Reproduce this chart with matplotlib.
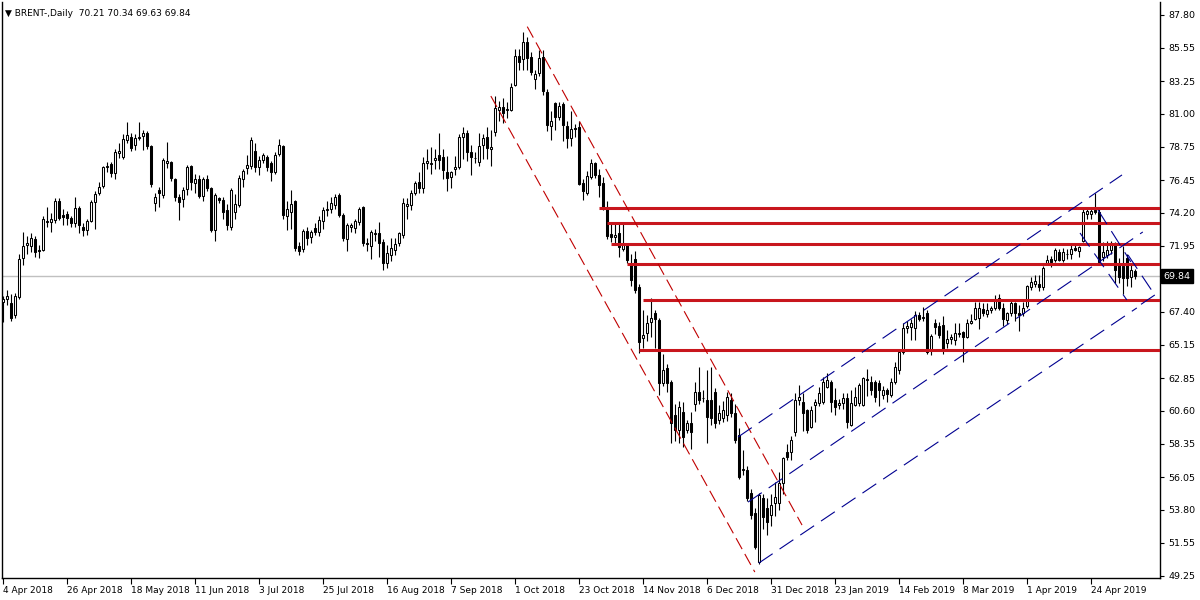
import numpy as np
import matplotlib
matplotlib.use("Agg")
from matplotlib import pyplot as plt

symbol = "BRENT-,Daily"
last_ohlc = [70.21, 70.34, 69.63, 69.84]

opens = [
    68.10, 68.30, 68.00, 67.20, 68.40, 71.10, 72.00, 71.90, 72.40, 71.65,
    71.65, 73.55, 73.60, 73.70, 75.00, 74.05, 74.10, 73.85, 73.50, 74.55,
    73.20, 73.00, 73.65, 74.95, 75.60, 76.05, 77.35, 77.55, 76.95, 78.35,
    78.05, 79.20, 79.40, 78.90, 79.35, 79.50, 79.70, 78.80, 74.90, 75.80,
    75.40, 77.65, 77.70, 76.50, 75.30, 75.15, 75.85, 77.40, 76.25, 76.50,
    75.35, 76.50, 75.90, 73.00, 75.20, 75.10, 74.40, 73.20, 74.25, 74.75,
    76.50, 77.30, 77.40, 78.45, 77.35, 77.85, 78.05, 77.60, 77.00, 78.25,
    78.80, 74.00, 74.25, 75.00, 71.95, 71.70, 72.95, 72.55, 73.15, 72.90,
    73.65, 74.40, 74.45, 74.75, 75.45, 74.05, 72.40, 73.25, 73.15, 73.60,
    74.60, 72.15, 71.95, 72.75, 72.80, 72.20, 70.75, 71.30, 71.65, 72.10,
    72.70, 74.70, 74.75, 75.60, 76.30, 75.90, 77.65, 77.55, 77.85, 78.20,
    78.05, 77.00, 76.65, 77.25, 77.35, 79.40, 79.70, 78.40, 77.95, 77.70,
    78.90, 79.40, 78.60, 79.75, 81.30, 81.50, 81.25, 81.30, 83.00, 84.95,
    84.80, 85.95, 84.90, 83.40, 83.80, 84.90, 82.50, 80.15, 81.75, 80.80,
    81.70, 80.15, 79.35, 80.05, 80.10, 76.25, 75.55, 76.65, 77.65, 76.80,
    76.25, 74.60, 72.75, 72.55, 72.80, 71.70, 72.00, 70.75, 71.05, 69.10,
    65.60, 65.95, 66.70, 67.30, 66.85, 62.50, 63.55, 62.60, 60.30, 59.30,
    60.50, 59.30, 59.75, 61.10, 61.90, 61.45, 61.35, 61.35, 61.90, 59.95,
    60.10, 60.30, 61.35, 60.45, 58.95, 56.50, 56.55, 54.95, 53.60, 50.20,
    54.60, 53.90, 53.45, 54.25, 54.25, 55.65, 57.75, 57.75, 59.15, 61.35,
    61.20, 60.65, 59.50, 61.00, 61.15, 61.20, 62.25, 62.60, 61.35, 61.00,
    61.15, 61.50, 59.65, 61.00, 61.15, 61.00, 62.70, 62.60, 62.60, 62.50,
    61.70, 62.00, 61.70, 62.60, 63.40, 64.65, 66.30, 66.35, 66.30, 67.20,
    66.95, 67.30, 64.80, 66.65, 66.45, 66.50, 65.25, 65.55, 65.45, 65.85,
    66.00, 65.70, 66.65, 66.90, 66.95, 67.60, 67.25, 67.50, 67.65, 68.35,
    67.65, 66.85, 67.30, 68.00, 67.30, 67.30, 67.80, 69.10, 69.30, 69.30,
    69.10, 70.75, 71.05, 70.95, 71.50, 70.95, 71.40, 71.40, 71.80, 71.55,
    72.30, 74.15, 74.15, 74.40, 74.25, 71.15, 71.30, 71.65, 72.00, 70.75,
    70.55, 71.10, 69.80, 70.21,
]
highs = [
    68.50, 68.90, 68.60, 68.70, 71.40, 72.90, 72.60, 72.80, 72.60, 72.00,
    74.00, 74.60, 74.20, 75.20, 75.20, 74.50, 74.30, 74.00, 75.30, 74.70,
    73.50, 73.80, 75.10, 75.70, 76.30, 77.45, 77.70, 77.70, 78.60, 79.00,
    79.60, 80.45, 79.70, 79.60, 80.45, 79.90, 79.80, 78.90, 75.60, 76.00,
    78.00, 79.10, 77.80, 76.60, 75.50, 76.00, 77.50, 77.50, 76.90, 76.80,
    76.70, 76.80, 76.00, 75.60, 75.30, 75.30, 74.80, 75.90, 75.50, 76.80,
    77.20, 78.20, 79.40, 79.00, 78.10, 78.30, 78.20, 77.80, 78.40, 79.30,
    78.90, 75.00, 75.80, 75.10, 72.20, 73.10, 73.20, 73.00, 73.50, 74.00,
    74.60, 75.00, 75.30, 75.50, 75.60, 74.20, 73.50, 73.50, 73.80, 74.60,
    74.70, 72.50, 73.00, 73.10, 73.60, 72.40, 72.00, 72.50, 72.50, 72.90,
    75.20, 75.20, 75.80, 76.40, 77.00, 78.05, 78.60, 78.70, 78.60, 79.70,
    78.60, 78.10, 77.10, 78.10, 79.60, 80.10, 79.90, 78.90, 78.40, 79.70,
    79.60, 80.10, 79.90, 82.20, 81.90, 82.10, 81.80, 83.10, 85.45, 85.45,
    86.60, 86.30, 85.25, 84.00, 85.40, 85.40, 82.70, 81.20, 81.80, 81.80,
    81.80, 80.50, 81.20, 80.30, 80.50, 76.50, 77.05, 77.90, 77.70, 77.20,
    76.70, 75.00, 73.50, 73.60, 73.50, 73.50, 72.10, 71.40, 71.60, 69.30,
    67.50, 67.20, 68.35, 67.50, 67.00, 64.50, 63.80, 62.70, 61.10, 61.30,
    61.20, 60.00, 60.50, 62.60, 63.60, 62.00, 63.40, 63.60, 62.20, 61.00,
    61.30, 61.90, 61.80, 61.10, 59.40, 57.90, 56.80, 55.20, 53.90, 54.95,
    54.85, 54.60, 54.85, 55.70, 56.40, 57.40, 58.30, 58.90, 61.80, 62.35,
    61.80, 60.75, 60.90, 61.40, 62.25, 62.95, 63.20, 62.70, 62.20, 61.40,
    61.85, 61.85, 62.05, 62.25, 62.50, 62.95, 63.50, 63.00, 62.75, 62.75,
    62.30, 62.15, 62.85, 63.95, 64.80, 66.65, 66.75, 66.90, 67.45, 67.40,
    67.70, 67.50, 65.90, 66.90, 66.70, 67.10, 66.15, 65.90, 66.65, 66.65,
    66.10, 66.90, 67.25, 68.10, 68.10, 68.00, 68.00, 67.80, 68.55, 68.65,
    68.00, 67.40, 68.20, 68.10, 67.90, 68.10, 69.25, 69.80, 69.90, 69.90,
    70.55, 71.30, 71.25, 71.80, 71.70, 71.80, 71.70, 72.00, 72.10, 71.90,
    74.50, 74.60, 74.60, 75.55, 74.50, 72.20, 72.30, 72.30, 72.20, 71.10,
    71.95, 71.40, 70.60, 70.34,
]
lows = [
    66.70, 67.90, 66.80, 67.00, 68.30, 70.60, 71.40, 71.50, 71.20, 71.10,
    71.60, 73.20, 72.90, 73.50, 73.70, 73.40, 73.40, 73.20, 73.20, 72.80,
    72.60, 72.70, 73.60, 73.10, 75.40, 75.90, 77.00, 76.70, 76.50, 78.00,
    77.90, 79.00, 78.45, 78.50, 79.20, 78.50, 78.60, 76.00, 74.30, 74.60,
    75.20, 77.30, 76.40, 75.00, 73.70, 74.60, 75.40, 75.80, 75.60, 75.20,
    75.00, 75.70, 72.90, 72.30, 74.90, 73.80, 73.00, 73.00, 73.80, 74.60,
    76.00, 76.90, 77.20, 77.00, 76.80, 77.60, 77.10, 76.40, 76.90, 78.10,
    73.80, 73.00, 73.10, 71.60, 71.30, 71.50, 72.00, 72.10, 72.70, 72.60,
    73.10, 74.00, 74.20, 74.50, 73.90, 72.30, 71.60, 72.90, 72.80, 73.40,
    71.90, 71.60, 71.00, 72.30, 71.20, 70.30, 70.40, 70.90, 71.30, 71.90,
    72.50, 73.80, 74.40, 75.40, 75.60, 75.60, 77.20, 76.90, 77.20, 77.20,
    76.50, 75.70, 75.90, 76.80, 77.20, 77.90, 77.80, 76.80, 77.60, 77.40,
    77.90, 77.90, 77.40, 79.50, 80.50, 80.40, 80.70, 81.20, 82.90, 84.00,
    84.00, 84.00, 83.70, 82.70, 83.60, 82.30, 79.80, 79.20, 79.90, 80.60,
    79.15, 78.65, 78.80, 79.40, 76.10, 75.10, 75.40, 76.50, 76.60, 75.30,
    74.40, 72.40, 72.20, 72.05, 71.20, 71.60, 70.75, 69.20, 68.70, 64.60,
    64.90, 65.40, 65.70, 64.90, 61.70, 62.30, 61.90, 58.40, 58.50, 58.40,
    58.10, 59.10, 58.00, 60.60, 61.10, 61.20, 58.40, 59.60, 59.40, 59.70,
    59.80, 59.90, 60.20, 58.40, 55.90, 56.20, 54.40, 53.20, 51.10, 50.10,
    52.50, 52.10, 52.70, 53.40, 53.80, 54.90, 57.20, 57.20, 58.90, 61.00,
    59.20, 59.05, 59.40, 59.80, 60.90, 61.05, 62.15, 60.50, 60.30, 60.70,
    60.70, 59.40, 59.55, 60.95, 60.90, 60.90, 61.60, 61.70, 61.20, 60.90,
    61.40, 61.20, 61.55, 62.45, 63.15, 64.50, 65.95, 65.50, 65.50, 66.80,
    66.80, 64.50, 64.45, 65.90, 65.60, 64.50, 64.95, 65.20, 65.10, 65.70,
    63.95, 65.60, 66.55, 66.85, 66.20, 67.15, 67.05, 67.30, 67.55, 67.55,
    66.40, 66.60, 67.10, 66.80, 66.10, 67.10, 67.65, 68.90, 69.10, 68.80,
    68.90, 70.60, 70.50, 70.85, 70.90, 70.85, 71.00, 71.00, 71.55, 71.20,
    72.20, 73.80, 73.80, 74.10, 70.65, 70.90, 71.10, 71.40, 69.40, 69.40,
    68.65, 69.20, 69.10, 69.63,
]
closes = [
    68.25, 68.50, 67.00, 68.50, 71.00, 71.90, 72.15, 72.50, 71.50, 71.55,
    73.80, 73.65, 73.75, 75.00, 73.85, 73.95, 73.85, 73.50, 74.55, 73.40,
    73.00, 73.65, 74.95, 75.50, 76.00, 77.35, 77.45, 76.95, 78.40, 78.45,
    79.30, 79.55, 78.65, 79.35, 79.45, 79.70, 78.80, 76.20, 75.30, 75.60,
    77.85, 77.75, 76.60, 75.30, 74.95, 75.80, 77.35, 76.30, 76.50, 75.35,
    76.50, 75.90, 73.00, 75.40, 75.10, 74.25, 73.35, 75.80, 74.80, 76.60,
    77.05, 77.50, 79.20, 77.35, 77.85, 78.20, 77.35, 77.00, 78.20, 78.90,
    74.05, 74.45, 74.80, 71.80, 71.60, 72.95, 72.50, 72.90, 72.90, 73.70,
    74.40, 74.50, 74.85, 75.30, 74.05, 72.50, 73.35, 73.35, 73.65, 74.45,
    72.15, 72.05, 72.90, 72.85, 72.10, 70.75, 71.45, 71.80, 72.05, 72.80,
    74.90, 74.80, 75.60, 76.25, 75.90, 77.65, 77.75, 77.65, 77.95, 77.85,
    77.15, 76.60, 77.00, 77.35, 79.40, 79.70, 78.40, 78.05, 78.00, 78.80,
    79.35, 78.65, 78.70, 81.40, 81.50, 81.05, 81.35, 82.85, 84.95, 84.55,
    85.95, 84.85, 83.90, 83.75, 84.85, 82.60, 80.25, 80.50, 80.80, 81.55,
    80.25, 79.35, 80.00, 79.95, 76.20, 75.70, 76.75, 77.65, 76.80, 76.10,
    74.60, 72.60, 72.55, 72.65, 71.85, 72.05, 70.95, 69.60, 68.90, 65.35,
    65.80, 66.65, 67.00, 66.90, 62.50, 63.40, 62.50, 59.75, 59.30, 60.85,
    58.80, 59.75, 59.15, 61.90, 61.35, 61.50, 60.15, 60.10, 59.75, 60.45,
    60.65, 61.55, 60.45, 58.60, 56.05, 56.60, 54.60, 53.45, 51.25, 54.80,
    53.30, 52.95, 54.15, 54.65, 55.65, 57.35, 57.40, 58.60, 61.35, 61.55,
    60.45, 59.30, 60.65, 61.20, 61.80, 62.60, 62.75, 61.20, 60.85, 61.15,
    61.50, 59.85, 61.15, 61.55, 62.40, 62.85, 62.80, 62.05, 61.55, 62.05,
    62.05, 61.75, 62.60, 63.60, 64.65, 66.30, 66.40, 66.65, 67.20, 66.90,
    67.05, 64.65, 65.75, 66.35, 65.80, 64.80, 65.55, 65.65, 65.95, 65.95,
    65.70, 66.65, 66.75, 67.65, 67.65, 67.35, 67.50, 67.65, 68.30, 67.65,
    66.90, 67.35, 68.00, 67.30, 67.20, 67.65, 69.20, 69.45, 69.55, 69.10,
    70.40, 70.95, 70.80, 71.65, 70.95, 71.50, 71.35, 71.75, 71.65, 71.85,
    74.25, 74.35, 74.35, 74.25, 70.80, 71.50, 71.65, 72.10, 70.30, 69.80,
    69.75, 69.75, 70.30, 69.84,
]

date_labels = [
    "4 Apr 2018", "26 Apr 2018", "18 May 2018", "11 Jun 2018", "3 Jul 2018",
    "25 Jul 2018", "16 Aug 2018", "7 Sep 2018", "1 Oct 2018", "23 Oct 2018",
    "14 Nov 2018", "6 Dec 2018", "31 Dec 2018", "23 Jan 2019", "14 Feb 2019",
    "8 Mar 2019", "1 Apr 2019", "24 Apr 2019",
]
label_step = 16

price_ticks = [87.80, 85.55, 83.25, 81.00, 78.75, 76.45, 74.20, 71.95,
               67.40, 65.15, 62.85, 60.60, 58.35, 56.05, 53.80, 51.55, 49.25]

# horizontal levels: start bar, price
level_start = [149, 151, 152, 156, 160, 159]
level_price = [74.56, 73.49, 72.09, 70.71, 68.24, 64.78]

# trend lines: bar0, price0, bar1, price1
red_lines = [
    (131.0, 87.00, 199.7, 52.75),
    (121.9, 82.23, 187.9, 49.52),
]
blue_lines = [
    (183.7, 58.80, 279.7, 76.81),
    (186.2, 54.33, 284.9, 72.89),
    (188.9, 50.14, 283.4, 67.67),
    (273.7, 74.40, 281.9, 70.83),
    (269.2, 72.82, 280.9, 68.22),
    (281.2, 71.31, 287.9, 68.56),
    (287.9, 68.56, 284.2, 67.87),
]

plt.rcParams['lines.scale_dashes'] = False

fig = plt.figure(figsize=(12, 6), dpi=100)
ax = fig.add_axes([2 / 1200, 22 / 600, 1158 / 1200, 576 / 600])

o = np.array(opens)
h = np.array(highs)
l = np.array(lows)
c = np.array(closes)
x = np.arange(len(c))
up = c >= o
bottom = np.minimum(o, c)
height = np.maximum(np.abs(c - o), 0.04)

ax.axhline(closes[-1], color='#c0c0c0', lw=1.0, zorder=1)
ax.vlines(x, l, h, color='black', lw=0.8, zorder=2)
ax.bar(x[up], height[up], bottom=bottom[up], width=0.55, facecolor='white',
       edgecolor='black', linewidth=0.75, zorder=3)
ax.bar(x[~up], height[~up], bottom=bottom[~up], width=0.55, facecolor='black',
       edgecolor='black', linewidth=0.75, zorder=3)

xmax = 289.2
ax.hlines(level_price, level_start, xmax, color='#c8161d', lw=2.2, zorder=4)

for x0, y0, x1, y1 in red_lines:
    ax.plot([x0, x1], [y0, y1], color='#c00000', lw=0.8, dashes=(9, 4), zorder=4)
for x0, y0, x1, y1 in blue_lines:
    ax.plot([x0, x1], [y0, y1], color='#000090', lw=0.8, dashes=(12, 6), zorder=4)

ax.set_xlim(-0.325, xmax)
ax.set_ylim(49.112, 88.693)

ax.spines['top'].set_visible(False)
for s in ['left', 'right', 'bottom']:
    ax.spines[s].set_linewidth(1.0)

ax.yaxis.tick_right()
ax.set_yticks(price_ticks)
ax.set_yticklabels([f"{p:.2f}" for p in price_ticks])
ax.tick_params(axis='y', direction='out', length=3, width=0.8, labelsize=6.8, pad=3)

ax.set_xticks(x[::label_step][:len(date_labels)])
ax.set_xticklabels(date_labels, ha='left')
ax.tick_params(axis='x', direction='out', length=4, width=0.8, labelsize=6.5, pad=2)

ax.text(1.003, closes[-1], f"{closes[-1]:.2f}", transform=ax.get_yaxis_transform(),
        color='white', fontsize=6.8, va='center', ha='left',
        bbox=dict(facecolor='black', edgecolor='black', boxstyle='square,pad=0.25'))

title = "\u25bc " + symbol + "  " + " ".join(f"{v:.2f}" for v in last_ohlc)
ax.text(0.003, 0.988, title, transform=ax.transAxes, fontsize=6.5, va='top', ha='left')

fig.savefig('out.png', dpi=100)
